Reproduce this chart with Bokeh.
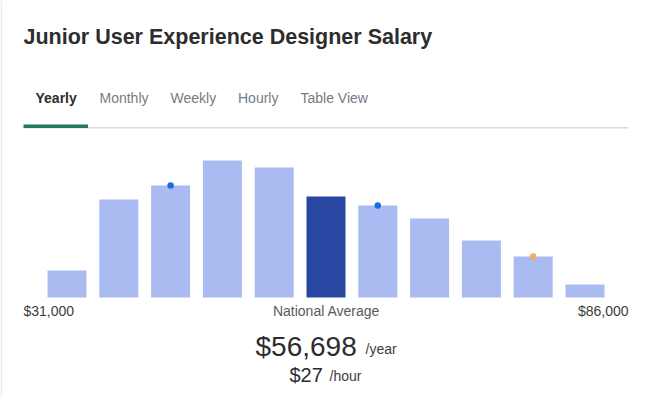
from bokeh.plotting import figure
from bokeh.models import Range1d, Label, BoxAnnotation, ColumnDataSource
from bokeh.embed import file_html
from bokeh.resources import INLINE

# ---- data ----
title_text = "Junior User Experience Designer Salary"
tabs = ["Yearly", "Monthly", "Weekly", "Hourly", "Table View"]
bins = list(range(11))
counts = [27, 98, 112, 137, 130, 101, 92, 79, 57, 41, 13]
avg_bin = 5
marker_bins_blue = [2, 6]
marker_bins_orange = [9]
min_label = "$31,000"
max_label = "$86,000"
avg_label = "National Average"
avg_year = "$56,698"
avg_hour = "$27"

W, H = 650, 397
FONT = "Liberation Sans"
LIGHT = "#a9bbf0"
DARK = "#2747a2"

p = figure(width=W, height=H, output_backend="svg", toolbar_location=None,
           x_range=Range1d(-1.2838, 11.2645), y_range=Range1d(-100, 297),
           min_border=0, min_border_left=0, min_border_right=0,
           min_border_top=0, min_border_bottom=0)
p.extra_x_ranges = {"px": Range1d(0, W)}
p.extra_y_ranges = {"px": Range1d(H, 0)}
p.xaxis.visible = False
p.yaxis.visible = False
p.grid.visible = False
p.outline_line_color = None
p.background_fill_color = "white"
p.border_fill_color = "white"

# faint card border on the left
p.add_layout(BoxAnnotation(left=0, right=1.5, top=0, bottom=H,
                           x_range_name="px", y_range_name="px",
                           fill_color="#ececec", fill_alpha=1, line_color=None))

colors = [DARK if b == avg_bin else LIGHT for b in bins]
src = ColumnDataSource(dict(x=bins, top=counts, color=colors))
p.vbar(x="x", top="top", bottom=0, width=0.753, fill_color="color", line_color=None, source=src)

p.scatter(x=marker_bins_blue, y=[counts[b] for b in marker_bins_blue], size=6.5,
          fill_color="#1a6fe0", line_color=None)
p.scatter(x=marker_bins_orange, y=[counts[b] for b in marker_bins_orange], size=6.5,
          fill_color="#f5ad62", line_color=None)

def lab(txt, x, y, size, color, bold=False, align="left"):
    p.add_layout(Label(x=x, y=y, x_range_name="px", y_range_name="px", text=txt,
                       text_font=FONT, text_font_size=f"{size}px", text_color=color,
                       text_font_style="bold" if bold else "normal",
                       text_align=align, text_baseline="alphabetic"))

lab(title_text, 23, 36.5, 21.5, "#2d2d2d", bold=True)

tab_x = [35, 99, 170, 237.5, 300]
for i, t in enumerate(tabs):
    lab(t, tab_x[i], 97, 14, "#2d2d2d" if i == 0 else "#767b82", bold=(i == 0))

p.add_layout(BoxAnnotation(left=23, right=628, top=126.5, bottom=128,
                           x_range_name="px", y_range_name="px",
                           fill_color="#d9d9d9", fill_alpha=1, line_color=None))
p.add_layout(BoxAnnotation(left=23, right=87.5, top=124, bottom=127.5,
                           x_range_name="px", y_range_name="px",
                           fill_color="#257a5b", fill_alpha=1, line_color=None))

lab(min_label, 23, 310, 14, "#3d3d3d")
lab(avg_label, 326, 310, 14, "#5a5a5a", align="center")
lab(max_label, 628, 310, 14, "#3d3d3d", align="right")

lab(avg_year, 255, 346, 28, "#2d2d2d")
lab("/year", 365, 348, 14, "#3d3d3d")
lab(avg_hour, 289, 374, 20, "#2d2d2d")
lab("/hour", 329, 375, 14, "#3d3d3d")

open("out.html", "w").write(file_html(p, INLINE))
